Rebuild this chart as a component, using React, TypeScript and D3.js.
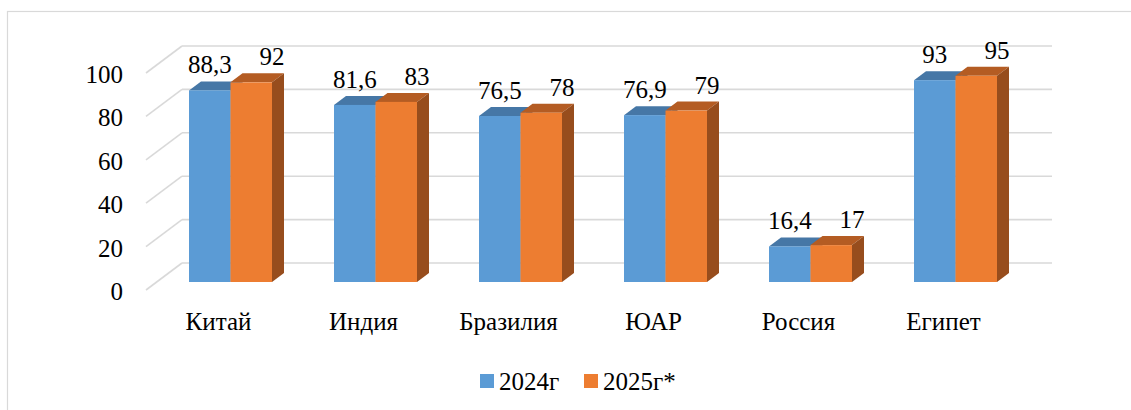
import React from 'react';
import * as d3 from 'd3';

// Countries and the two yearly series
const categories = ['Китай', 'Индия', 'Бразилия', 'ЮАР', 'Россия', 'Египет'];
const seriesNames = ['2024г', '2025г*'];
const values2024 = [88.3, 81.6, 76.5, 76.9, 16.4, 93];
const values2025 = [92, 83, 78, 79, 17, 95];
const yTicks = [0, 20, 40, 60, 80, 100];

const W = 1131;
const H = 410;
const FS = 25;
const SERIF = 'Times New Roman';

// face colours per series: front, top, side
const palette = [
  { front: '#5b9bd5', top: '#4677a6', side: '#3f6d98' },
  { front: '#ed7d31', top: '#b45c23', side: '#974d1d' },
];

// oblique projection offsets (px) for the bar depth, back wall and floor front edge
const BAR_D = { dx: 12, dy: -9 };
const WALL_D = { dx: 24, dy: -19 };
const FLOOR_D = { dx: -12, dy: 8 };

const fmt = (v: number) => String(v).replace('.', ',');

export default function App() {
  const x = d3.scaleBand<string>().domain(categories).range([158, 1028]);
  const groupW = 83;
  const xs = d3.scaleBand<string>().domain(seriesNames).range([0, groupW]);
  const groupOffset = (x.bandwidth() - groupW) / 2;
  const y = d3.scaleLinear().domain([0, 100]).range([282, 65]);
  const [x0, x1] = x.range();
  const bw = xs.bandwidth();

  const seriesValues = [values2024, values2025];
  const poly = (pts: [number, number][]) => pts.map((p) => p.join(',')).join(' ');

  return (
    <div style={{ position: 'absolute', left: 0, top: 0, fontFamily: SERIF }}>
      <svg width={W} height={H} style={{ display: 'block', fontFamily: SERIF }}>
        <style>{`text { font-family: 'Times New Roman', 'Liberation Serif', serif; font-size: ${FS}px; fill: #000; }`}</style>
        <rect x={7.5} y={11.5} width={1200} height={500} fill="#fff" stroke="#d9d9d9" strokeWidth={1.2} />

        {/* gridlines on the side wall and back wall */}
        <g stroke="#d9d9d9" strokeWidth={1.6} fill="none">
          {yTicks.map((t) => {
            const yy = y(t);
            return (
              <g key={t}>
                <line x1={x0 + FLOOR_D.dx} y1={yy + FLOOR_D.dy} x2={x0 + WALL_D.dx} y2={yy + WALL_D.dy} />
                <line x1={x0 + WALL_D.dx} y1={yy + WALL_D.dy} x2={x1 + WALL_D.dx} y2={yy + WALL_D.dy} />
              </g>
            );
          })}
        </g>

        {/* y-axis tick labels */}
        {yTicks.map((t) => (
          <text key={t} x={123} y={y(t) + 18} textAnchor="end">
            {t}
          </text>
        ))}

        {/* 3D columns */}
        {categories.map((c, ci) => (
          <g key={c}>
            {seriesNames.map((s, si) => {
              const v = seriesValues[si][ci];
              const bx = (x(c) as number) + groupOffset + (xs(s) as number);
              const yt = y(v);
              const yb = y(0);
              const col = palette[si];
              const top = poly([
                [bx, yt],
                [bx + BAR_D.dx, yt + BAR_D.dy],
                [bx + bw + BAR_D.dx, yt + BAR_D.dy],
                [bx + bw, yt],
              ]);
              const side = poly([
                [bx + bw, yt],
                [bx + bw + BAR_D.dx, yt + BAR_D.dy],
                [bx + bw + BAR_D.dx, yb + BAR_D.dy],
                [bx + bw, yb],
              ]);
              return (
                <g key={s}>
                  <polygon points={top} fill={col.top} />
                  <polygon points={side} fill={col.side} />
                  <rect x={bx} y={yt} width={bw} height={yb - yt} fill={col.front} />
                </g>
              );
            })}
          </g>
        ))}

        {/* value labels */}
        {categories.map((c, ci) =>
          seriesNames.map((s, si) => {
            const v = seriesValues[si][ci];
            const bx = (x(c) as number) + groupOffset + (xs(s) as number);
            const lx = si === 0 ? bx + bw / 2 : bx + bw;
            return (
              <text key={c + s} x={lx} y={y(v) - 17} textAnchor="middle">
                {fmt(v)}
              </text>
            );
          })
        )}

        {/* category labels along the floor front edge */}
        {categories.map((c) => (
          <text key={c} x={(x(c) as number) + x.bandwidth() / 2 + FLOOR_D.dx} y={330} textAnchor="middle">
            {c}
          </text>
        ))}

        {/* legend */}
        {seriesNames.map((s, si) => {
          const lx = 480 + si * 104;
          return (
            <g key={s}>
              <rect x={lx} y={374} width={14} height={14} fill={palette[si].front} />
              <text x={lx + 19} y={390}>
                {s}
              </text>
            </g>
          );
        })}
      </svg>
    </div>
  );
}
